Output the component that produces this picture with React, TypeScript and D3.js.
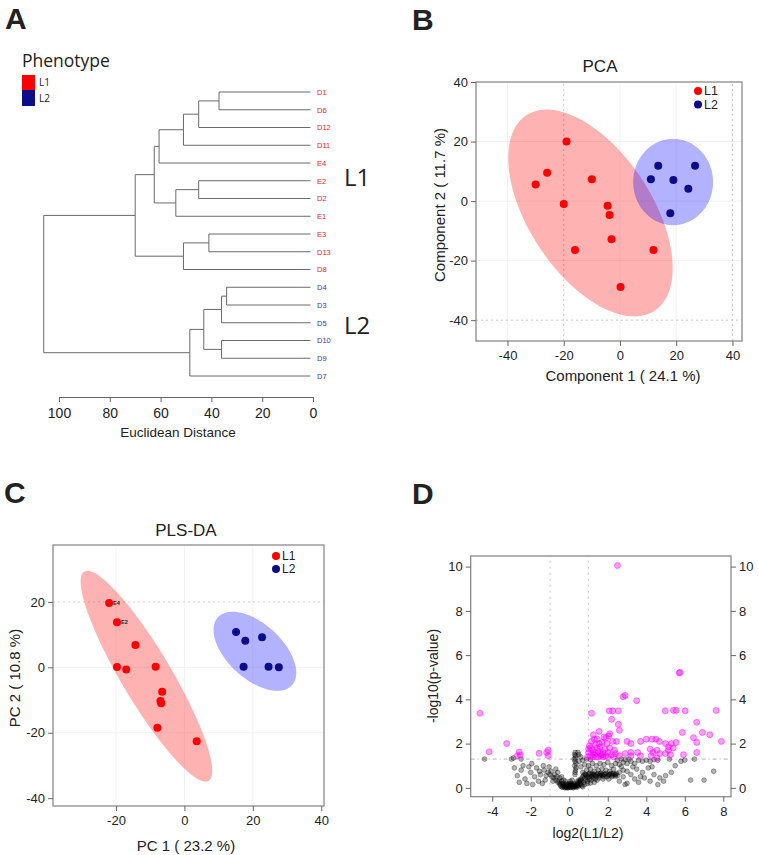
import { useRef, useEffect } from 'react';
import * as d3 from 'd3';

const FONT = '"Liberation Sans", Arial, sans-serif';
const RED = '#ff0000';
const NAVY = '#0c0c8a';

// ---------- A: hierarchical clustering ----------
const leafNames = ['D1', 'D6', 'D12', 'D11', 'E4', 'E2', 'D2', 'E1', 'E3', 'D13', 'D8', 'D4', 'D3', 'D5', 'D10', 'D9', 'D7'];
const l2Leaves = ['D4', 'D3', 'D5', 'D10', 'D9', 'D7'];
const distTicks = [100, 80, 60, 40, 20, 0];
// merge heights
const tree = {
  h: 106, children: [
    { h: 70, children: [
      { h: 62.5, children: [
        { h: 60.6, children: [
          { h: 51, children: [
            { h: 45, children: [{ h: 37, children: [{ name: 'D1' }, { name: 'D6' }] }, { name: 'D12' }] },
            { name: 'D11' }] },
          { name: 'E4' }] },
        { h: 54, children: [{ h: 45, children: [{ name: 'E2' }, { name: 'D2' }] }, { name: 'E1' }] }] },
      { h: 51, children: [{ h: 41, children: [{ name: 'E3' }, { name: 'D13' }] }, { name: 'D8' }] }] },
    { h: 48.5, children: [
      { h: 43, children: [
        { h: 36, children: [{ h: 34, children: [{ name: 'D4' }, { name: 'D3' }] }, { name: 'D5' }] },
        { h: 36, children: [{ name: 'D10' }, { name: 'D9' }] }] },
      { name: 'D7' }] }
  ]
};

// ---------- B: PCA ----------
const pcaTicks = [-40, -20, 0, 20, 40];
const pcaL1 = [[-19, 20], [-25.9, 9.5], [-30, 5.6], [-10, 7.3], [-20, -1], [-4.4, -1.6], [-3.7, -4.7], [-3, -12.8], [-16, -16.4], [11.9, -16.4], [0.2, -28.9]];
const pcaL2 = [[13.6, 11.9], [26.7, 11.9], [11, 7.3], [19, 7.1], [24.3, 4.1], [17.9, -4.1]];
const pcaEllL1 = { cx: -10.5, cy: -4, a: 40, b: 21.5, angle: -54 };
const pcaEllL2 = { cx: 18.9, cy: 6.4, a: 14.5, b: 14.2, angle: 90 };

// ---------- C: PLS-DA ----------
const plsXTicks = [-20, 0, 20, 40];
const plsYTicks = [-40, -20, 0, 20];
const plsL1 = [[-22, 19.7], [-19.7, 13.8], [-14.3, 6.8], [-19.7, 0.1], [-17, -0.7], [-8.4, 0.2], [-6.5, -7.5], [-7, -10.3], [-6.8, -11], [-7.9, -18.5], [3.6, -22.6]];
const plsL1Names = ['E4', 'E2', '', '', '', '', '', '', '', '', ''];
const plsL2 = [[15.1, 10.8], [17.8, 8.1], [22.7, 9.2], [17.3, 0.2], [24.6, 0.2], [27.6, 0]];
const plsEllL1 = { cx: -11.1, cy: -2.7, a: 36.8, b: 7.4, angle: -60.5 };
const plsEllL2 = { cx: 20.6, cy: 4.9, a: 15, b: 8.2, angle: -45 };

// ---------- D: volcano ----------
const volXTicks = [-4, -2, 0, 2, 4, 6, 8];
const volYTicks = [0, 2, 4, 6, 8, 10];
const sigPoints = [
  [2.5, 10.05],
  [-4.64, 3.37], [-4.16, 1.63], [-3.25, 2.0], [-2.7, 1.45], [-2.6, 1.62], [-2.55, 1.48], [-1.57, 1.56], [-1.1, 1.7], [-1.1, 1.45], [-1.17, 1.6],
  [1.16, 3.37], [2.07, 3.48], [2.25, 3.48], [2.55, 3.48], [2.2, 3.1], [2.55, 2.87], [2.8, 4.12], [2.9, 4.18], [3.5, 3.94],
  [4.98, 3.48], [5.41, 3.5], [5.55, 3.5], [6.02, 3.48], [5.71, 5.19], [5.75, 5.22], [7.63, 3.5], [6.62, 2.96], [6.91, 2.5], [7.3, 2.4], [7.9, 2.1],
  [6.45, 2.27], [6.62, 2.05], [6.62, 1.6], [5.93, 1.5], [5.87, 2.5],
  [4.0, 2.2], [4.5, 2.2], [4.68, 2.1], [3.0, 2.1], [3.2, 2.0], [3.7, 2.1], [4.3, 2.2],
  [5.0, 2.0], [5.15, 1.85], [5.3, 2.0], [5.4, 1.8], [5.55, 2.05], [4.2, 1.75], [4.35, 1.6], [4.55, 1.7], [4.25, 1.45], [4.7, 1.55], [4.55, 1.35],
  [5.0, 1.55], [5.15, 1.7], [5.25, 1.5], [2.9, 1.55], [3.2, 1.6], [3.2, 1.45], [3.55, 1.6], [3.7, 1.45], [2.4, 1.55], [2.6, 1.45],
  [1.0, 1.6], [1.05, 1.9], [1.1, 1.45], [1.15, 2.1], [1.2, 1.7], [1.25, 2.4], [1.3, 1.5], [1.35, 1.95], [1.4, 1.4], [1.45, 2.2],
  [1.5, 1.65], [1.55, 2.55], [1.6, 1.85], [1.65, 1.45], [1.7, 2.05], [1.75, 1.6], [1.8, 2.3], [1.85, 1.75], [1.9, 1.45], [1.95, 2.0],
  [2.0, 1.6], [2.05, 2.35], [2.1, 1.8], [2.2, 1.5], [2.25, 2.1], [2.35, 1.7], [0.95, 1.4], [1.2, 1.38], [1.5, 1.38], [1.75, 1.4],
  [1.35, 1.6], [1.6, 1.55], [1.1, 1.8], [1.3, 2.2], [1.9, 2.25], [2.1, 2.45], [1.45, 1.8], [2.45, 2.1], [2.6, 2.6], [1.0, 1.75],
  [1.25, 1.55], [1.55, 2.0], [1.7, 1.5], [2.0, 1.4], [2.3, 1.4]
];
const nsPoints = [
  [-0.6, 0.25], [-0.5, 0.18], [-0.45, 0.1], [-0.4, 0.05], [-0.3, 0.08], [-0.25, 0.02], [-0.2, 0.12], [-0.15, 0.03], [-0.1, 0.06], [-0.05, 0.01],
  [0, 0.04], [0.05, 0.1], [0.1, 0.02], [0.15, 0.07], [0.2, 0.12], [0.25, 0.05], [0.3, 0.15], [0.35, 0.09], [0.4, 0.2], [0.45, 0.14],
  [0.5, 0.25], [0.55, 0.3], [-0.35, 0.15], [-0.55, 0.3], [0.6, 0.35], [-0.1, 0.15], [0.1, 0.12], [0, 0.2], [-0.2, 0.0], [0.2, 0.0],
  [-0.45, 0.2], [-0.35, 0.03], [-0.3, 0.2], [-0.15, 0.18], [-0.05, 0.1], [0.05, 0.02], [0.1, 0.2], [0.2, 0.05], [0.25, 0.18], [0.35, 0.02],
  [0.4, 0.1], [0.45, 0.05], [0.5, 0.12], [0.55, 0.2], [0.6, 0.15], [-0.25, 0.1], [-0.1, 0.0], [0, 0.1], [0.15, 0.14], [0.3, 0.07],
  [0.05, 0.17], [-0.2, 0.06], [0.4, 0.28], [-0.4, 0.3], [0.5, 0.35],
  [-0.5, 0.45], [-0.3, 0.35], [-0.2, 0.3], [-0.4, 0.5], [0.15, 0.35], [0.05, 0.3],
  [-0.7, 0.35], [-0.8, 0.45], [-0.9, 0.5], [-1.0, 0.6], [-0.75, 0.6], [-0.65, 0.5], [-0.85, 0.3], [-1.1, 0.7], [-1.2, 0.55], [-0.95, 0.75],
  [-0.6, 0.7], [-1.3, 0.8], [-0.7, 0.85], [-1.05, 0.95],
  [-2.7, 0.55], [-2.5, 0.8], [-2.3, 0.4], [-2.2, 0.2], [-2.0, 0.7], [-1.9, 0.15], [-1.8, 0.5], [-1.7, 0.9], [-1.6, 0.3], [-1.5, 0.6],
  [-1.4, 0.2], [-1.35, 1.0], [-2.6, 0.25], [-2.4, 1.0], [-1.55, 0.75], [-2.1, 0.95], [-1.25, 0.35], [-2.85, 0.9], [-1.95, 1.1],
  [-4.4, 1.3], [-3.0, 1.3], [-2.9, 1.35], [-2.5, 1.3],
  [0.3, 0.6], [0.32, 0.8], [0.28, 1.0], [0.3, 1.2], [0.33, 1.45], [0.3, 1.6], [0.35, 0.9], [0.25, 1.3], [0.5, 1.5], [0.6, 1.4], [0.45, 1.6],
  [0.3, 0.7], [0.35, 1.1], [0.28, 1.5], [0.32, 1.35],
  [0.6, 0.4], [0.7, 0.5], [0.8, 0.45], [0.9, 0.55], [1.0, 0.5], [1.1, 0.6], [1.2, 0.55], [1.3, 0.6], [1.4, 0.5], [1.5, 0.65],
  [1.6, 0.55], [1.7, 0.6], [1.8, 0.5], [1.9, 0.65], [2.0, 0.55], [2.1, 0.6], [2.2, 0.5], [2.3, 0.65], [2.4, 0.6], [2.5, 0.55],
  [0.75, 0.55], [0.85, 0.6], [0.95, 0.45], [1.05, 0.65], [1.15, 0.5], [1.25, 0.6], [1.35, 0.55], [1.45, 0.6], [1.55, 0.55], [1.65, 0.65],
  [1.75, 0.55], [1.85, 0.6], [1.95, 0.5], [2.05, 0.6], [2.15, 0.65], [2.25, 0.55], [2.35, 0.6], [2.45, 0.65], [1.2, 0.65], [1.8, 0.62],
  [2.2, 0.62], [1.0, 0.62], [0.8, 0.62], [2.4, 0.52], [1.6, 0.62],
  [0.65, 0.3], [0.75, 0.25], [0.85, 0.35], [0.95, 0.3], [1.05, 0.4], [1.15, 0.35], [1.25, 0.45], [1.35, 0.4], [1.45, 0.35], [1.55, 0.45],
  [1.75, 0.4], [2.05, 0.4], [0.65, 0.1], [0.8, 0.15], [0.95, 0.2], [1.1, 0.22], [1.3, 0.25], [0.7, 0.05],
  [0.7, 0.7], [0.9, 0.8], [1.1, 0.85], [1.3, 0.75], [1.5, 0.8], [1.7, 0.85], [1.9, 0.8], [2.1, 0.75], [2.3, 0.85], [2.6, 0.7],
  [2.8, 0.8], [3.0, 0.75], [0.6, 0.95], [0.8, 1.05], [1.0, 1.0], [1.2, 1.1], [1.4, 1.0], [1.6, 1.1], [1.8, 1.05], [2.0, 1.15],
  [2.2, 1.0], [2.4, 1.1], [2.6, 1.05], [2.8, 1.15], [3.0, 1.1], [3.2, 1.2], [3.4, 1.1], [3.6, 1.25], [3.8, 1.2], [4.0, 1.25],
  [4.2, 1.2], [4.4, 1.28], [4.6, 1.25], [0.5, 1.2], [0.7, 1.25], [0.9, 1.3], [1.1, 1.28], [2.5, 1.25], [2.7, 1.3], [2.9, 1.28], [3.1, 1.3],
  [2.6, 0.3], [2.8, 0.5], [3.0, 0.2], [3.2, 0.6], [3.4, 0.4], [3.5, 0.85], [3.6, 0.25], [3.8, 0.7], [3.9, 0.45], [4.1, 0.9],
  [4.2, 0.3], [4.4, 0.6], [4.6, 0.15], [4.7, 0.45], [3.3, 0.95], [2.7, 0.95], [4.3, 0.95], [3.7, 0.5], [2.9, 0.15],
  [5.0, 0.55], [5.3, 0.7], [5.5, 1.0], [5.8, 1.2], [6.0, 1.25], [6.3, 0.35], [7.0, 0.35], [7.5, 0.75], [5.2, 1.3], [6.5, 1.3], [4.9, 0.3]
];

function ellipsePath(e, x, y) {
  const phi = e.angle * Math.PI / 180;
  const pts = d3.range(0, 2 * Math.PI + 0.01, Math.PI / 60).map(t => {
    const dx = e.a * Math.cos(t), dy = e.b * Math.sin(t);
    return [x(e.cx + dx * Math.cos(phi) - dy * Math.sin(phi)), y(e.cy + dx * Math.sin(phi) + dy * Math.cos(phi))];
  });
  return d3.line()(pts) + 'Z';
}

function styleAxis(g, size = 13) {
  g.select('.domain').remove();
  g.selectAll('line').attr('stroke', '#666');
  g.selectAll('text').attr('font-family', FONT).attr('font-size', size).attr('fill', '#222');
}

function frame(svg, x, y, xt, yt, right = false) {
  const [x0, x1] = x.range();
  const [y0, y1] = y.range();
  const g = svg.append('g');
  g.append('rect').attr('x', x0).attr('y', y1).attr('width', x1 - x0).attr('height', y0 - y1)
    .attr('fill', 'none').attr('stroke', '#8a8a8a').attr('stroke-width', 1.3);
  g.append('g').attr('transform', `translate(0,${y0})`)
    .call(d3.axisBottom(x).tickValues(xt).tickSize(5).tickPadding(5).tickFormat(d => String(d)))
    .call(a => styleAxis(a));
  g.append('g').attr('transform', `translate(${x0},0)`)
    .call(d3.axisLeft(y).tickValues(yt).tickSize(5).tickPadding(3).tickFormat(d => String(d)))
    .call(a => styleAxis(a));
  if (right) {
    g.append('g').attr('transform', `translate(${x1},0)`)
      .call(d3.axisRight(y).tickValues(yt).tickSize(5).tickPadding(3).tickFormat(d => String(d)))
      .call(a => styleAxis(a));
  }
}

function grid(svg, x, y, xs, ys, color, dash) {
  const [x0, x1] = x.range();
  const [y0, y1] = y.range();
  xs.forEach(v => svg.append('line').attr('x1', x(v)).attr('x2', x(v)).attr('y1', y0).attr('y2', y1)
    .attr('stroke', color).attr('stroke-dasharray', dash));
  ys.forEach(v => svg.append('line').attr('x1', x0).attr('x2', x1).attr('y1', y(v)).attr('y2', y(v))
    .attr('stroke', color).attr('stroke-dasharray', dash));
}

function text(svg, x, y, s, size, opts = {}) {
  const t = svg.append('text').attr('x', x).attr('y', y).text(s)
    .attr('font-family', opts.family || FONT).attr('font-size', size)
    .attr('fill', opts.fill || '#222').attr('text-anchor', opts.anchor || 'start')
    .attr('font-weight', opts.weight || 'normal');
  if (opts.rotate) t.attr('transform', `rotate(-90,${x},${y})`);
  return t;
}

function legend(svg, lx, ly, gap, size) {
  [['L1', RED], ['L2', NAVY]].forEach(([lab, c], i) => {
    svg.append('circle').attr('cx', lx).attr('cy', ly + i * gap).attr('r', 4).attr('fill', c);
    text(svg, lx + 6, ly + i * gap + 4.3, lab, size);
  });
}

const App = () => {
  const ref = useRef(null);

  useEffect(() => {
    const svg = d3.select(ref.current);
    svg.selectAll('*').remove();

    // ===== Panel A =====
    text(svg, 5, 29, 'A', 30, { weight: 'bold' });
    const xd = d3.scaleLinear().domain([0, 100]).range([313, 59]);
    const yl = d3.scalePoint().domain(leafNames).range([92, 376]);
    const root = d3.hierarchy(tree);
    root.eachAfter(n => {
      n.hh = n.data.h || 0;
      n.yy = n.children ? d3.mean(n.children, c => c.yy) : yl(n.data.name);
    });
    const gd = svg.append('g').attr('stroke', '#6a6a6a').attr('stroke-width', 1);
    root.each(n => {
      if (!n.children) return;
      gd.append('line').attr('x1', xd(n.hh)).attr('x2', xd(n.hh))
        .attr('y1', n.children[0].yy).attr('y2', n.children[1].yy);
      n.children.forEach(c => {
        gd.append('line').attr('x1', xd(n.hh)).attr('x2', c.children ? xd(c.hh) : xd(1))
          .attr('y1', c.yy).attr('y2', c.yy);
      });
    });
    root.leaves().forEach(l => {
      const blue = l2Leaves.includes(l.data.name);
      text(svg, 317, l.yy + 2.8, l.data.name, 7.5, { fill: blue ? '#3a36a8' : '#e8231f' });
    });
    svg.append('g').attr('transform', 'translate(0,397)')
      .call(d3.axisBottom(xd).tickValues(distTicks).tickSize(5).tickSizeOuter(0).tickPadding(6))
      .call(a => {
        a.select('.domain').attr('stroke', '#666');
        a.selectAll('line').attr('stroke', '#666');
        a.selectAll('text').attr('font-family', FONT).attr('font-size', 14).attr('fill', '#222');
      });
    text(svg, 178, 437, 'Euclidean Distance', 13.5, { anchor: 'middle' });
    text(svg, 22, 67, 'Phenotype', 17.5, { family: '"Open Sans", sans-serif' });
    svg.append('rect').attr('x', 22).attr('y', 75).attr('width', 13).attr('height', 15).attr('fill', RED);
    svg.append('rect').attr('x', 22).attr('y', 90).attr('width', 13).attr('height', 16).attr('fill', NAVY);
    text(svg, 39, 86, 'L1', 10, { family: '"Open Sans", sans-serif' });
    text(svg, 39, 102, 'L2', 10, { family: '"Open Sans", sans-serif' });
    text(svg, 344, 186, 'L1', 24, { family: '"Open Sans", sans-serif' });
    text(svg, 344, 334, 'L2', 24, { family: '"Open Sans", sans-serif' });

    // ===== Panel B: PCA =====
    text(svg, 412, 30, 'B', 30, { weight: 'bold' });
    const xb = d3.scaleLinear().domain([-51.2, 43.4]).range([476, 742]);
    const yb = d3.scaleLinear().domain([-47, 40]).range([341, 82]);
    grid(svg, xb, yb, [-40, 0, 20], [0, 20, -20], '#f2f2f2', null);
    grid(svg, xb, yb, [-20, 40], [-40], '#c8c8c8', '2,3');
    svg.append('path').attr('d', ellipsePath(pcaEllL1, xb, yb)).attr('fill', RED).attr('fill-opacity', 0.3);
    svg.append('path').attr('d', ellipsePath(pcaEllL2, xb, yb)).attr('fill', '#0000ff').attr('fill-opacity', 0.3);
    pcaL1.forEach(d => svg.append('circle').attr('cx', xb(d[0])).attr('cy', yb(d[1])).attr('r', 4).attr('fill', RED));
    pcaL2.forEach(d => svg.append('circle').attr('cx', xb(d[0])).attr('cy', yb(d[1])).attr('r', 4).attr('fill', NAVY));
    frame(svg, xb, yb, pcaTicks, pcaTicks);
    legend(svg, 698, 91, 13.5, 12.5);
    text(svg, 600, 72, 'PCA', 17, { anchor: 'middle' });
    text(svg, 623, 381, 'Component 1 ( 24.1 %)', 15, { anchor: 'middle' });
    text(svg, 445, 205, 'Component 2 ( 11.7 %)', 15, { anchor: 'middle', rotate: true });

    // ===== Panel C: PLS-DA =====
    text(svg, 4, 503, 'C', 30, { weight: 'bold' });
    const xc = d3.scaleLinear().domain([-38.4, 40.8]).range([53, 324]);
    const yc = d3.scaleLinear().domain([-42.4, 37.4]).range([806, 545]);
    grid(svg, xc, yc, [-20, 0, 20], [0, -20], '#f2f2f2', null);
    grid(svg, xc, yc, [], [20], '#cfcfcf', '2,3');
    svg.append('path').attr('d', ellipsePath(plsEllL1, xc, yc)).attr('fill', RED).attr('fill-opacity', 0.3);
    svg.append('path').attr('d', ellipsePath(plsEllL2, xc, yc)).attr('fill', '#0000ff').attr('fill-opacity', 0.3);
    plsL1.forEach((d, i) => {
      svg.append('circle').attr('cx', xc(d[0])).attr('cy', yc(d[1])).attr('r', 4).attr('fill', RED);
      if (plsL1Names[i]) text(svg, xc(d[0]) + 4, yc(d[1]) + 2, plsL1Names[i], 5.5, { weight: 'bold' });
    });
    plsL2.forEach(d => svg.append('circle').attr('cx', xc(d[0])).attr('cy', yc(d[1])).attr('r', 4).attr('fill', NAVY));
    frame(svg, xc, yc, plsXTicks, plsYTicks);
    legend(svg, 276, 556, 13, 12);
    text(svg, 186, 536, 'PLS-DA', 17, { anchor: 'middle' });
    text(svg, 186, 851, 'PC 1 ( 23.2 %)', 15, { anchor: 'middle' });
    text(svg, 20, 678, 'PC 2 ( 10.8 %)', 15, { anchor: 'middle', rotate: true });

    // ===== Panel D: volcano =====
    text(svg, 412, 504, 'D', 30, { weight: 'bold' });
    const xv = d3.scaleLinear().domain([-5.12, 8.4]).range([470.7, 731]);
    const yv = d3.scaleLinear().domain([-0.4, 10.48]).range([796.7, 556]);
    grid(svg, xv, yv, [-1, 1], [], '#c8c8c8', '2,4');
    grid(svg, xv, yv, [], [1.3], '#b0b0b0', '4,3,1,3');
    svg.append('g').selectAll('circle').data(nsPoints).join('circle')
      .attr('cx', d => xv(d[0])).attr('cy', d => yv(d[1])).attr('r', 2.4)
      .attr('fill', '#000').attr('fill-opacity', 0.3).attr('stroke', '#000').attr('stroke-opacity', 0.3);
    svg.append('g').selectAll('circle').data(sigPoints).join('circle')
      .attr('cx', d => xv(d[0])).attr('cy', d => yv(d[1])).attr('r', 3)
      .attr('fill', '#ff00ff').attr('fill-opacity', 0.38).attr('stroke', '#ff00ff').attr('stroke-opacity', 0.45);
    frame(svg, xv, yv, volXTicks, volYTicks, true);
    text(svg, 588, 838, 'log2(L1/L2)', 14, { anchor: 'middle' });
    text(svg, 438, 676, '-log10(p-value)', 14, { anchor: 'middle', rotate: true });
  }, []);

  return (
    <svg ref={ref} width={759} height={855} style={{ position: 'absolute', left: 0, top: 0, background: '#fff' }}></svg>
  );
};

export default App;
